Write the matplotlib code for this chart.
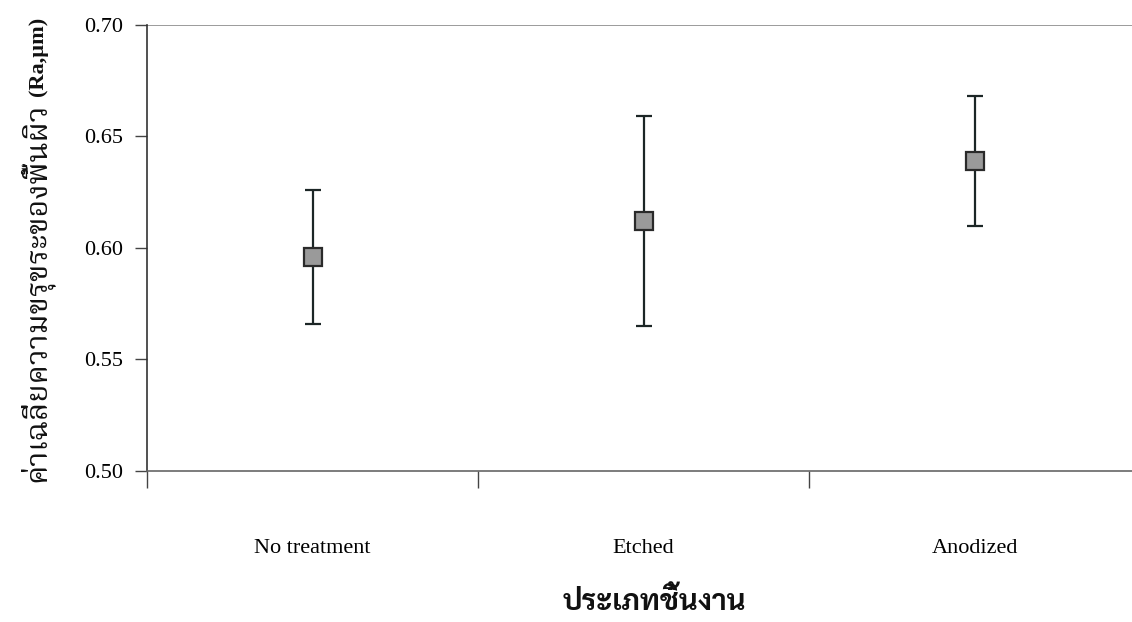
import matplotlib
matplotlib.use('Agg')
import numpy as np
import matplotlib.pyplot as plt

categories = ['No treatment', 'Etched', 'Anodized']
mean_ra = [0.596, 0.612, 0.639]
err_ra = [0.030, 0.047, 0.029]
y_ticks = [0.50, 0.55, 0.60, 0.65, 0.70]

serif = ['Liberation Serif', 'Noto Serif Thai']

fig = plt.figure(figsize=(11.32, 6.22), dpi=100)
ax = fig.add_axes([147 / 1132, 151 / 622, 993 / 1132, 446 / 622])

x = np.arange(len(categories)) + 0.5
ax.errorbar(x, mean_ra, yerr=err_ra, fmt='s', color='#1c2626', ecolor='#1c2626',
            elinewidth=1.6, capsize=6, capthick=1.6, markersize=13,
            markerfacecolor='#9a9a9a', markeredgecolor='#2a2a2a', markeredgewidth=1.6,
            zorder=3)

ax.set_xlim(0, len(categories))
ax.set_ylim(0.50, 0.70)
ax.set_yticks(y_ticks)
ax.set_yticklabels(['%.2f' % v for v in y_ticks])
ax.set_xticks(np.arange(len(categories) + 1))
ax.set_xticklabels([])
ax.set_xticks(x, minor=True)
ax.set_xticklabels(categories, minor=True)
ax.tick_params(axis='x', which='major', length=12, width=1, color='#444444')
ax.tick_params(axis='x', which='minor', length=0, pad=49, labelsize=16)
ax.tick_params(axis='y', length=9, width=1, color='#444444', labelsize=16, pad=8)
for lab in ax.get_xticklabels(minor=True) + ax.get_yticklabels():
    lab.set_family(serif)

ax.axhline(0.70, color='#8a8a8a', lw=1.2, zorder=1)
ax.spines['top'].set_visible(False)
ax.spines['right'].set_visible(False)
ax.spines['left'].set_color('#333333')
ax.spines['bottom'].set_color('#666666')
ax.spines['left'].set_linewidth(1.2)
ax.spines['bottom'].set_linewidth(1.2)

# y label: Thai part regular, unit part bold
fig.text(36 / 1132, 1 - 482 / 622, 'ค่าเฉลี่ยความขรุขระของพื้นผิว', rotation=90,
         ha='center', va='bottom', fontsize=22, family=serif, color='#111111')
fig.text(38 / 1132, 1 - 17 / 622, '(Ra,\u00b5m)', rotation=90,
         ha='center', va='top', fontsize=16, family=serif, fontweight='bold',
         color='#111111')

fig.text(654 / 1132, 1 - 603 / 622, 'ประเภทชิ้นงาน', ha='center', va='center',
         fontsize=21, fontweight='bold', family=['Sarabun', 'DejaVu Sans'],
         color='#111111')

fig.savefig('out.png')
